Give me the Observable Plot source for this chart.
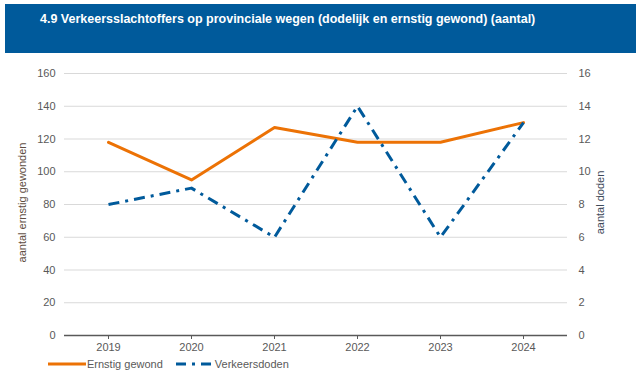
<!DOCTYPE html>
<html>
<head>
<meta charset="utf-8">
<script src="https://cdn.jsdelivr.net/npm/d3@7"></script>
<script src="https://cdn.jsdelivr.net/npm/@observablehq/plot@0.6"></script>
<style>
  body { margin: 0; background: #fff; }
  #wrap { position: relative; width: 640px; height: 379px; overflow: hidden; font-family: "Liberation Sans", Arial, sans-serif; }
  #header { position: absolute; left: 5px; top: 4px; width: 631px; height: 49px; background: #005a9b; }
  #title { position: absolute; left: 40px; top: 12px; color: #fff; font: bold 12.5px "Liberation Sans Narrow", "Liberation Sans", Arial, sans-serif; white-space: nowrap; }
  #chart { position: absolute; left: 0; top: 0; }
  #legend { position: absolute; left: 48px; top: 358px; display: flex; align-items: center; font-size: 11px; color: #595959; }
  .item { display: flex; align-items: center; }
</style>
</head>
<body>
<div id="wrap">
  <div id="chart"></div>
  <div id="header"></div>
  <div id="title">4.9 Verkeersslachtoffers op provinciale wegen (dodelijk en ernstig gewond) (aantal)</div>
  <div id="legend"></div>
</div>
<script>
const years = [2019, 2020, 2021, 2022, 2023, 2024];
const ernstigGewond = [118, 95, 127, 118, 118, 130];
const verkeersdoden = [8, 9, 6, 14, 6, 13];
const leftTicks = [0, 20, 40, 60, 80, 100, 120, 140, 160];
const rightTicks = [0, 2, 4, 6, 8, 10, 12, 14, 16];
const seriesNames = ["Ernstig gewond", "Verkeersdoden"];
const colors = ["#ec7205", "#005a9b"];
const dash = "11,6,3,6";

const ratio = 10; // left scale / right scale
const gewondData = years.map((y, i) => ({year: y, value: ernstigGewond[i]}));
const dodenData = years.map((y, i) => ({year: y, value: verkeersdoden[i] * ratio}));

const plot = Plot.plot({
  width: 640,
  height: 379,
  marginTop: 73,
  marginBottom: 44,
  marginLeft: 64,
  marginRight: 73,
  style: {fontFamily: "'Liberation Sans', Arial, sans-serif", fontSize: "11px", color: "#595959", background: "transparent"},
  x: {type: "point", domain: years, padding: 0.5},
  y: {domain: [0, 160]},
  marks: [
    Plot.gridY(leftTicks, {stroke: "#d9d9d9", strokeOpacity: 1, strokeWidth: 1}),
    Plot.ruleY([0], {stroke: "#595959", strokeWidth: 1.3}),
    Plot.axisX({ticks: years, tickFormat: d => String(d), tickSize: 4, tickPadding: 4, stroke: "#595959", label: null, fill: "#595959"}),
    Plot.axisY({ticks: leftTicks, tickSize: 0, tickPadding: 9, label: null, fill: "#595959"}),
    Plot.axisY({anchor: "right", ticks: rightTicks.map(d => d * ratio), tickFormat: d => String(d / ratio), tickSize: 0, tickPadding: 11, label: null, fill: "#595959"}),
    Plot.text(["aantal ernstig gewonden"], {frameAnchor: "left", textAnchor: "middle", dx: -42, dy: -2, rotate: -90, fill: "#5e4d42", fontSize: 11}),
    Plot.text(["aantal doden"], {frameAnchor: "right", textAnchor: "middle", dx: 33, dy: -2, rotate: -90, fill: "#3f4a5a", fontSize: 11}),
    Plot.line(gewondData, {x: "year", y: "value", stroke: colors[0], strokeWidth: 3, strokeLinejoin: "round"}),
    Plot.line(dodenData, {x: "year", y: "value", stroke: colors[1], strokeWidth: 3, strokeDasharray: dash, strokeLinecap: "butt"})
  ]
});
document.getElementById("chart").appendChild(plot);

const legend = document.getElementById("legend");
seriesNames.forEach((name, i) => {
  const item = document.createElement("div");
  item.className = "item";
  const sw = d3.create("svg").attr("width", 38).attr("height", 8);
  sw.append("line").attr("x1", 0).attr("x2", 38).attr("y1", 4).attr("y2", 4)
    .attr("stroke", colors[i]).attr("stroke-width", 3)
    .attr("stroke-dasharray", i === 1 ? "10,6,3,6" : null);
  item.appendChild(sw.node());
  const t = document.createElement("span");
  t.textContent = name;
  t.style.marginLeft = "1px";
  t.style.marginRight = i === 0 ? "13px" : "0";
  item.appendChild(t);
  legend.appendChild(item);
});
</script>
</body>
</html>
